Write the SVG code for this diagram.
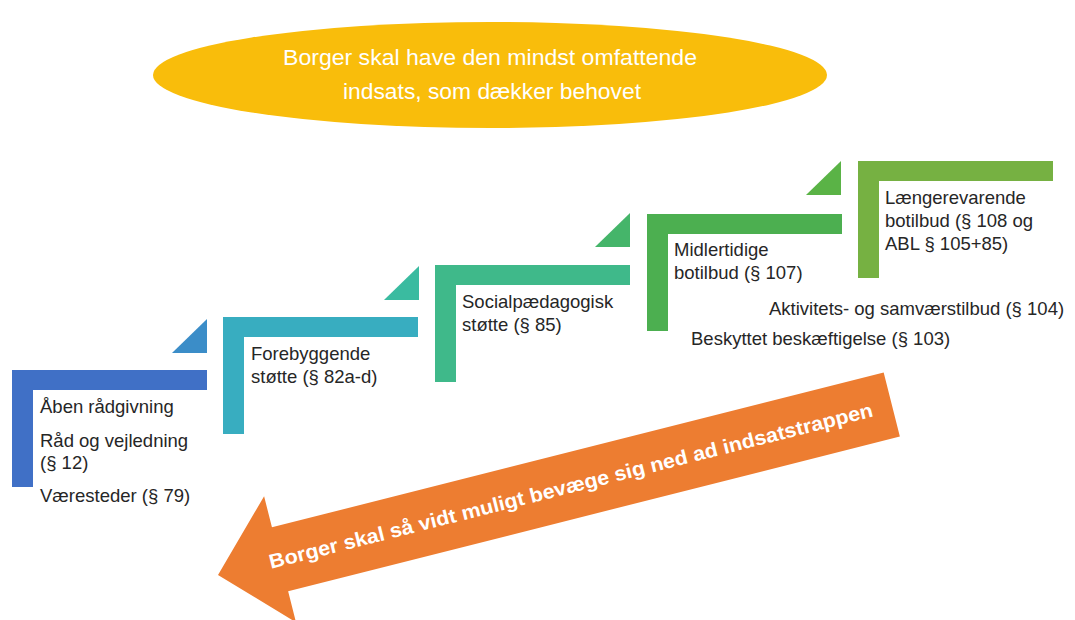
<svg xmlns="http://www.w3.org/2000/svg" width="1075" height="620" viewBox="0 0 1075 620">
  <style>
    .lbl { font-family: "Liberation Sans", Arial, sans-serif; font-size: 18.5px; fill: #262626; }
    .ell { font-family: "Liberation Sans", Arial, sans-serif; font-size: 22px; fill: #ffffff; text-anchor: middle; }
    .arr { font-family: "Liberation Sans", Arial, sans-serif; font-size: 20px; font-weight: bold; fill: #ffffff; text-anchor: middle; }
  </style>
  <defs>
    <path id="step" d="M0,0 h195 v20 h-174 v97 h-21 z"/>
    <path id="tri" d="M0,0 L35,0 L35,-34 z"/>
  </defs>
  <rect width="1075" height="620" fill="#ffffff"/>

  <g id="principle">
    <ellipse cx="490" cy="75" rx="337" ry="53" fill="#F9BD0B"/>
    <text class="ell" x="490" y="65" textLength="414" lengthAdjust="spacingAndGlyphs">Borger skal have den mindst omfattende</text>
    <text class="ell" x="492" y="99" textLength="298" lengthAdjust="spacingAndGlyphs">indsats, som dækker behovet</text>
  </g>

  <g id="step1">
    <use href="#step" x="12" y="370" fill="#4070C6"/>
    <use href="#tri" x="172" y="353" fill="#3B8DC8"/>
    <text class="lbl" x="40" y="413">Åben rådgivning</text>
    <text class="lbl" x="40" y="447">Råd og vejledning</text>
    <text class="lbl" x="40" y="469">(§ 12)</text>
    <text class="lbl" x="40" y="502">Væresteder (§ 79)</text>
  </g>

  <g id="step2">
    <use href="#step" x="223" y="317" fill="#38ADC0"/>
    <use href="#tri" x="384" y="300" fill="#3ABBA0"/>
    <text class="lbl" x="251" y="360">Forebyggende</text>
    <text class="lbl" x="251" y="383">støtte (§ 82a-d)</text>
  </g>

  <g id="step3">
    <use href="#step" x="435" y="265" fill="#3FB98A"/>
    <use href="#tri" x="595" y="247" fill="#45B56A"/>
    <text class="lbl" x="462" y="308">Socialpædagogisk</text>
    <text class="lbl" x="462" y="331">støtte (§ 85)</text>
  </g>

  <g id="step4">
    <use href="#step" x="647" y="214" fill="#4CAF50"/>
    <use href="#tri" x="806" y="195" fill="#5AB346"/>
    <text class="lbl" x="674" y="256">Midlertidige</text>
    <text class="lbl" x="674" y="279">botilbud (§ 107)</text>
    <text class="lbl" x="769" y="315">Aktivitets- og samværstilbud (§ 104)</text>
    <text class="lbl" x="691" y="345">Beskyttet beskæftigelse (§ 103)</text>
  </g>

  <g id="step5">
    <use href="#step" x="858" y="161" fill="#76B142"/>
    <text class="lbl" x="885" y="204">Længerevarende</text>
    <text class="lbl" x="885" y="227">botilbud (§ 108 og</text>
    <text class="lbl" x="885" y="250">ABL § 105+85)</text>
  </g>

  <g id="connectors">
    <g id="down-arrow" transform="translate(218,575) rotate(-14.2)">
      <polygon points="0,0 64,-65 64,-33 695,-33 695,33 64,33 64,65" fill="#ED7D31"/>
      <text class="arr" x="364" y="7" textLength="622" lengthAdjust="spacingAndGlyphs">Borger skal så vidt muligt bevæge sig ned ad indsatstrappen</text>
    </g>
  </g>
</svg>
